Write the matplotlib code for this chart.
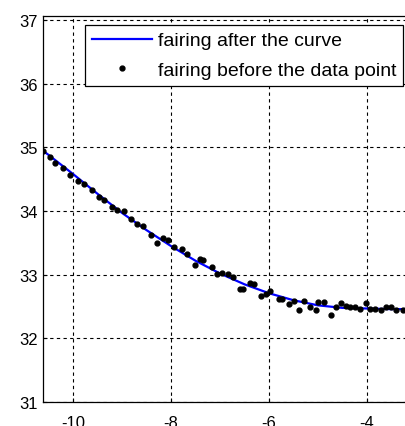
import numpy as np
import matplotlib.pyplot as plt

plt.rcParams['font.family'] = ['Liberation Sans', 'DejaVu Sans']
plt.rcParams['axes.unicode_minus'] = False

# fitted curve
curve_x = [-10.62, -10.5, -10.0, -9.5, -9.0, -8.5, -8.0, -7.5, -7.0,
           -6.5, -6.0, -5.5, -5.0, -4.5, -4.0, -3.5, -3.0]
curve_y = [34.95, 34.88, 34.58, 34.27, 33.97, 33.70, 33.45, 33.22, 33.02,
           32.85, 32.71, 32.60, 32.52, 32.48, 32.47, 32.46, 32.46]

# raw data points
pts_x = [-10.62, -10.48, -10.37, -10.21, -10.06, -9.91, -9.78, -9.62, -9.48,
         -9.37, -9.21, -9.10, -8.96, -8.82, -8.69, -8.57, -8.42, -8.29,
         -8.16, -8.07, -7.94, -7.78, -7.67, -7.52, -7.41, -7.34, -7.17,
         -7.06, -6.95, -6.83, -6.73, -6.60, -6.52, -6.38, -6.31, -6.16,
         -6.07, -5.97, -5.80, -5.73, -5.59, -5.48, -5.38, -5.28, -5.16,
         -5.04, -4.99, -4.87, -4.73, -4.63, -4.53, -4.43, -4.35, -4.24,
         -4.13, -4.02, -3.94, -3.83, -3.72, -3.61, -3.51, -3.41, -3.27]
pts_y = [34.95, 34.85, 34.75, 34.68, 34.56, 34.48, 34.42, 34.33, 34.22,
         34.18, 34.07, 34.01, 34.00, 33.87, 33.80, 33.77, 33.62, 33.50,
         33.57, 33.55, 33.43, 33.41, 33.33, 33.15, 33.24, 33.23, 33.12,
         33.01, 33.03, 33.01, 32.96, 32.77, 32.77, 32.87, 32.85, 32.67,
         32.70, 32.74, 32.62, 32.62, 32.54, 32.59, 32.45, 32.59, 32.49,
         32.45, 32.57, 32.57, 32.37, 32.49, 32.56, 32.51, 32.49, 32.49,
         32.46, 32.56, 32.46, 32.47, 32.44, 32.49, 32.49, 32.44, 32.45]

x_ticks = [-10, -8, -6, -4]
y_ticks = [31, 32, 33, 34, 35, 36, 37]

fig = plt.figure(figsize=(4.06, 4.27), dpi=100)
ax = fig.add_axes([0.105, 0.056, 0.919, 0.905])

ax.plot(curve_x, curve_y, color='#0000ff', lw=1.6, label='fairing after the curve', zorder=3)
ax.plot(pts_x, pts_y, '.', color='black', ms=7, label='fairing before the data point', zorder=4)

ax.set_xlim(-10.625, -3.0)
ax.set_ylim(31, 37.07)
ax.set_xticks(x_ticks)
ax.set_yticks(y_ticks)
ax.tick_params(direction='in', length=3, labelsize=12, width=0.8)
ax.tick_params(axis='x', pad=9)
ax.grid(True, color='black', linestyle=(0, (3, 3)), linewidth=0.8)
for s in ax.spines.values():
    s.set_linewidth(0.9)

leg = ax.legend(loc='upper left', bbox_to_anchor=(85 / 406, 1 - 26 / 427),
                bbox_transform=fig.transFigure, fontsize=14, frameon=True,
                fancybox=False, handlelength=3.1, handletextpad=0.3,
                borderpad=0.35, labelspacing=0.6, borderaxespad=0)
leg.get_frame().set_edgecolor('black')
leg.get_frame().set_linewidth(0.9)
leg.get_frame().set_alpha(1)

fig.savefig('out.png', dpi=100)
